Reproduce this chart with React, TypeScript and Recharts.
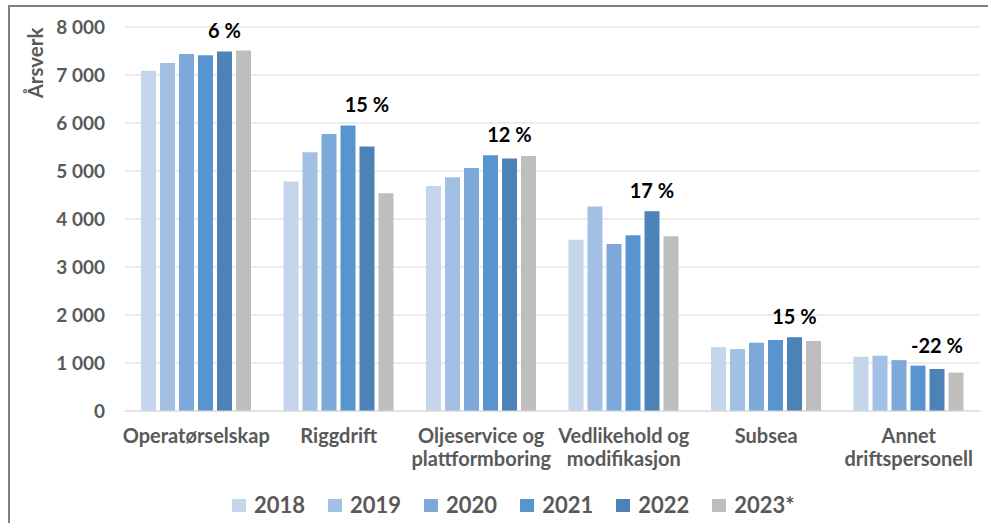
import React from "react";
import {
  BarChart,
  Bar,
  XAxis,
  YAxis,
  CartesianGrid,
  Legend,
  LabelList,
  Label,
} from "recharts";

const FONT = "Lato, 'Open Sans', sans-serif";

const categories = [
  "Operatørselskap",
  "Riggdrift",
  "Oljeservice og\nplattformboring",
  "Vedlikehold og\nmodifikasjon",
  "Subsea",
  "Annet\ndriftspersonell",
];
const years = ["2018", "2019", "2020", "2021", "2022", "2023*"];
const s2018 = [7090, 4780, 4690, 3570, 1330, 1130];
const s2019 = [7250, 5390, 4870, 4260, 1290, 1150];
const s2020 = [7440, 5770, 5060, 3480, 1420, 1060];
const s2021 = [7410, 5950, 5330, 3660, 1480, 945];
const s2022 = [7490, 5510, 5260, 4160, 1535, 875];
const s2023 = [7510, 4535, 5310, 3640, 1460, 800];
const changeLabels = ["6 %", "15 %", "12 %", "17 %", "15 %", "-22 %"];
const yTicks = [0, 1000, 2000, 3000, 4000, 5000, 6000, 7000, 8000];

const colors = ["#c5d5eb", "#a2bfe4", "#7ca9da", "#5895d0", "#4c82b6", "#bebebe"];
const seriesValues = [s2018, s2019, s2020, s2021, s2022, s2023];
const keys = ["y2018", "y2019", "y2020", "y2021", "y2022", "y2023"];

const data = categories.map((c, i) => {
  const row: any = { category: c };
  keys.forEach((k, j) => (row[k] = seriesValues[j][i]));
  return row;
});

const fmt = (v: number) =>
  v >= 1000 ? `${Math.floor(v / 1000)} ${String(v % 1000).padStart(3, "0")}` : String(v);

function CategoryTick(props: any) {
  const { x, y, payload } = props;
  const lines = String(payload.value).split("\n");
  return (
    <text
      x={x}
      y={y + 32}
      textAnchor="middle"
      fill="#595959"
      fontFamily={FONT}
      fontWeight="bold"
      fontSize={20}
    >
      {lines.map((l, i) => (
        <tspan key={i} x={x} dy={i === 0 ? 0 : 23}>
          {l}
        </tspan>
      ))}
    </text>
  );
}

// change label sits above the tallest of the last three bars in each group
function ChangeLabel(props: any) {
  const { x, y, width, height, value, index } = props;
  if (!value) return null;
  const perUnit = height / value;
  const bottom = y + height;
  const maxV = Math.max(s2021[index], s2022[index], s2023[index]);
  const top = bottom - maxV * perUnit;
  return (
    <text
      x={x + width / 2}
      y={top - 13}
      textAnchor="middle"
      fill="#000"
      fontFamily={FONT}
      fontWeight="bold"
      fontSize={20}
    >
      {changeLabels[index]}
    </text>
  );
}

function LegendContent() {
  return (
    <div style={{ display: "flex", alignItems: "center", height: 26 }}>
      {years.map((yr, i) => (
        <div
          key={yr}
          style={{ display: "flex", alignItems: "center", marginRight: 23 }}
        >
          <span
            style={{
              width: 14,
              height: 13,
              background: colors[i],
              display: "inline-block",
              marginRight: 8,
            }}
          />
          <span
            style={{
              fontFamily: FONT,
              fontWeight: "bold",
              fontSize: 22,
              color: "#595959",
              lineHeight: "26px",
            }}
          >
            {yr}
          </span>
        </div>
      ))}
    </div>
  );
}

export default function App() {
  return (
    <div
      style={{
        position: "absolute",
        top: 5,
        left: 8,
        width: 978,
        height: 516,
        borderLeft: "2px solid #808080",
        borderTop: "2px solid #808080",
        overflow: "hidden",
        background: "#fff",
      }}
    >
      <BarChart
        width={978}
        height={516}
        data={data}
        margin={{ top: 20, right: 8, bottom: 52, left: 0 }}
        barSize={15}
        barGap={4}
      >
        <CartesianGrid vertical={false} stroke="#d9d9d9" />
        <XAxis
          dataKey="category"
          interval={0}
          tick={<CategoryTick />}
          tickLine={false}
          tickSize={0}
          tickMargin={0}
          axisLine={{ stroke: "#d9d9d9" }}
          height={60}
        />
        <YAxis
          width={115}
          domain={[0, 8000]}
          ticks={yTicks}
          tickFormatter={fmt}
          axisLine={false}
          tickLine={false}
          tickSize={0}
          tickMargin={20}
          tick={{ fill: "#595959", fontFamily: FONT, fontWeight: "bold", fontSize: 19 }}
        >
          <Label
            content={(p: any) => {
              const vb = p.viewBox;
              const cx = vb.x + 25;
              const cy = vb.y + 36;
              return (
                <text
                  x={cx}
                  y={cy}
                  transform={`rotate(-90 ${cx} ${cy})`}
                  textAnchor="middle"
                  dominantBaseline="central"
                  fill="#595959"
                  fontFamily={FONT}
                  fontWeight="bold"
                  fontSize={20.5}
                >
                  Årsverk
                </text>
              );
            }}
          />
        </YAxis>
        <Legend
          layout="horizontal"
          verticalAlign="middle"
          align="center"
          content={<LegendContent />}
          wrapperStyle={{ top: 485, left: 222, width: "auto", height: 26 }}
        />
        {keys.map((k, j) => (
          <Bar
            key={k}
            dataKey={k}
            name={years[j]}
            fill={colors[j]}
            isAnimationActive={false}
          >
            {k === "y2022" ? <LabelList dataKey={k} content={<ChangeLabel />} /> : null}
          </Bar>
        ))}
      </BarChart>
    </div>
  );
}
